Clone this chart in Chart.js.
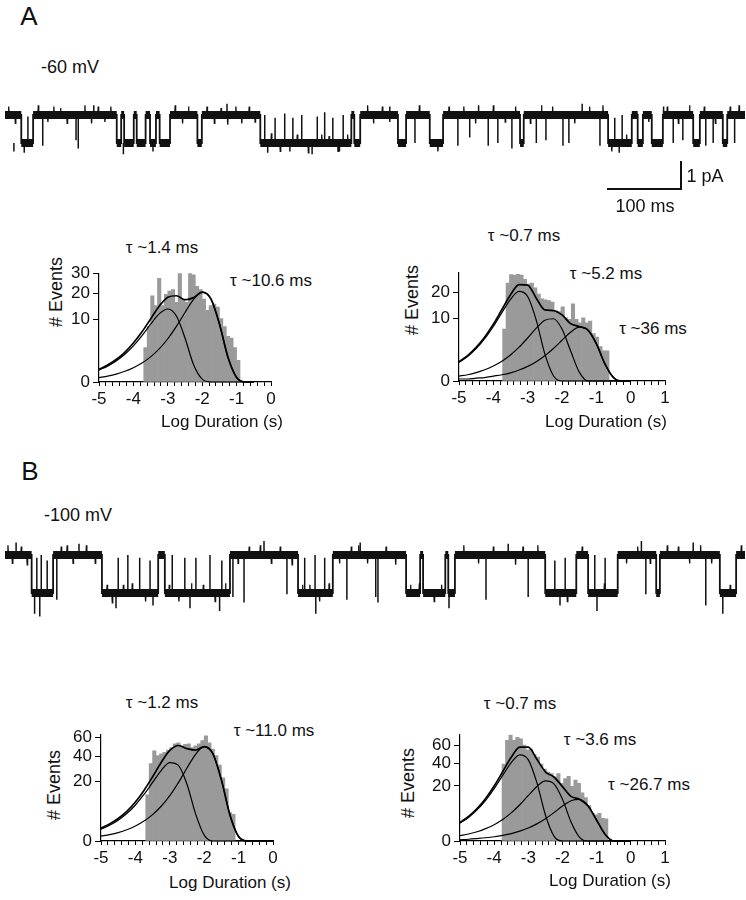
<!DOCTYPE html>
<html lang="en">
<head>
<meta charset="UTF-8">
<title>Single-channel records and dwell-time histograms</title>
<script src="https://cdn.jsdelivr.net/npm/chart.js"></script>
<style>
    body { margin: 0; background: #fff; }
    #fig { position: relative; width: 746px; height: 900px; background: #fff; overflow: hidden;
           font-family: 'Liberation Sans', Arial, Helvetica, sans-serif; color: #111; }
    canvas { position: absolute; }
    .t { position: absolute; transform: translate(-50%, -50%); white-space: pre; line-height: 1; font-size: 17px; }
    .big { font-size: 26px; }
    .mid { font-size: 18px; }
    .rot { transform: translate(-50%, -50%) rotate(-90deg); font-size: 18px; }
    .bar { position: absolute; background: #111; }
</style>
</head>
<body>
<div id="fig">
    <div class="t big" style="left:29px;top:16px">A</div>
    <div class="t mid" style="left:70px;top:67px">-60 mV</div>
    <canvas id="trA" width="740" height="84" style="left:5px;top:94px"></canvas>
    <div class="bar" style="left:680px;top:161px;width:1.5px;height:28px"></div>
    <div class="bar" style="left:607px;top:188px;width:75px;height:1.5px"></div>
    <div class="t mid" style="left:705px;top:176px">1 pA</div>
    <div class="t mid" style="left:645px;top:206px">100 ms</div>

    <div class="t" style="left:162px;top:247px">τ ~1.4 ms</div>
    <div class="t" style="left:271px;top:280px">τ ~10.6 ms</div>
    <div class="t rot" style="left:56px;top:292px"># Events</div>
    <canvas id="hAL" width="216" height="152" style="left:65px;top:260px"></canvas>
    <div class="t" style="left:222px;top:421px">Log Duration (s)</div>

    <div class="t" style="left:524px;top:235px">τ ~0.7 ms</div>
    <div class="t" style="left:606px;top:273px">τ ~5.2 ms</div>
    <div class="t" style="left:653px;top:328px">τ ~36 ms</div>
    <div class="t rot" style="left:412px;top:300px"># Events</div>
    <canvas id="hAR" width="250" height="152" style="left:425px;top:259px"></canvas>
    <div class="t" style="left:606px;top:421px">Log Duration (s)</div>

    <div class="t big" style="left:30px;top:471px">B</div>
    <div class="t mid" style="left:78px;top:515px">-100 mV</div>
    <canvas id="trB" width="740" height="90" style="left:5px;top:535px"></canvas>

    <div class="t" style="left:162px;top:702px">τ ~1.2 ms</div>
    <div class="t" style="left:274px;top:730px">τ ~11.0 ms</div>
    <div class="t rot" style="left:54px;top:785px"># Events</div>
    <canvas id="hBL" width="216" height="150" style="left:67px;top:721px"></canvas>
    <div class="t" style="left:230px;top:882px">Log Duration (s)</div>

    <div class="t" style="left:520px;top:703px">τ ~0.7 ms</div>
    <div class="t" style="left:600px;top:739px">τ ~3.6 ms</div>
    <div class="t" style="left:649px;top:784px">τ ~26.7 ms</div>
    <div class="t rot" style="left:408px;top:783px"># Events</div>
    <canvas id="hBR" width="249" height="150" style="left:426px;top:721px"></canvas>
    <div class="t" style="left:610px;top:880px">Log Duration (s)</div>
</div>

<script>
    // ---- current traces (time in ms, current in pA; 0 = closed level) ----
    const traceA_t  = [0,22,38,151,157,161,174,178,190,196,204,209,223,260,266,345,468,472,480,531,542,574,592,696,701,815,847,855,862,874,889,930,939,970,976,1000];
    const traceA_pA = [0,-1,0,-1,0,-1,0,-1,0,-1,0,-1,0,-1,0,-1,0,-1,0,-1,0,-1,0,-1,0,-1,0,-1,0,-1,0,-1,0,-1,0,0];
    const spikeA_t    = [51,96,99,554,612,628,653,666,685,718,731,754,762,804,903,916,947,957,986,
                         31,351,365,378,389,401,422,432,443,457,824,834,
                         26,160,200,355,385,415,452,830,
                         12,120,300,520,640,780,890];
    const spikeA_from = [0,0,0,0,0,0,0,0,0,0,0,0,0,0,0,0,0,0,0,
                         -1,-1,-1,-1,-1,-1,-1,-1,-1,-1,-1,-1,
                         -1,-1,-1,-1,-1,-1,-1,-1,-1,
                         0,0,0,0,0,0,0];
    const spikeA_to   = [-1.1,-0.9,-1.2,-1.0,-1.1,-0.8,-1.1,-1.0,-1.2,-1.0,-0.9,-1.1,-1.0,-1.1,-1.0,-0.9,-1.1,-1.0,-1.0,
                         -0.05,0,-0.1,0.05,-0.1,0,-0.05,0.1,-0.1,0,-0.1,0,
                         -1.35,-1.4,-1.3,-1.35,-1.3,-1.4,-1.3,-1.35,-1.3,
                         0.35,0.4,0.3,0.35,0.4,0.3,0.35];
    // small excursions of the baseline noise (offset from the level, pA)
    const noiseA_t = [5,14,45,58,66,75,84,108,117,126,135,143,230,240,248,273,283,292,301,312,320,330,338,360,372,395,410,428,
                      438,450,463,490,498,510,520,560,585,600,620,636,660,676,690,710,725,740,770,790,808,820,840,870,895,910,925,945,960,980,992];
    const noiseA_d = [0.3,-0.3,0.35,-0.25,0.3,0.25,-0.3,0.35,-0.3,0.3,-0.25,0.3,0.35,-0.3,0.3,0.3,-0.3,0.25,-0.35,0.3,-0.3,0.3,-0.25,0.35,
                      -0.3,0.3,-0.35,0.3,0.25,-0.3,0.3,0.35,-0.3,0.3,-0.25,0.35,-0.3,0.3,0.3,-0.3,0.35,-0.25,0.3,-0.3,0.35,0.3,-0.3,0.3,
                      0.35,-0.3,0.3,-0.25,0.3,-0.3,0.35,0.3,-0.3,0.3,0.35];

    const traceB_t  = [0,36,65,131,207,216,304,396,443,542,561,565,595,599,608,730,772,788,828,880,885,966,988,1000];
    const traceB_pA = [0,-1.36,0,-1.36,0,-1.36,0,-1.36,0,-1.36,0,-1.36,0,-1.36,0,-1.36,0,-1.36,0,-1.36,0,-1.36,0,0];
    const spikeB_t    = [70,308,323,381,462,501,504,650,707,866,947,
                         43,49,57,153,166,182,196,226,243,258,277,293,405,419,432,743,757,797,811,
                         40,47,150,200,250,290,420,600,750,800,970,
                         15,100,350,480,680,860,930];
    const spikeB_from = [0,0,0,0,0,0,0,0,0,0,0,
                         -1.36,-1.36,-1.36,-1.36,-1.36,-1.36,-1.36,-1.36,-1.36,-1.36,-1.36,-1.36,-1.36,-1.36,-1.36,-1.36,-1.36,-1.36,-1.36,
                         -1.36,-1.36,-1.36,-1.36,-1.36,-1.36,-1.36,-1.36,-1.36,-1.36,-1.36,
                         0,0,0,0,0,0,0];
    const spikeB_to   = [-1.6,-1.5,-1.7,-1.4,-1.6,-1.5,-1.7,-1.6,-1.5,-1.4,-1.8,
                         -0.1,0,-0.2,-0.1,0,-0.1,-0.2,0,-0.1,-0.1,0,-0.2,-0.1,0,-0.1,-0.2,-0.1,0,-0.1,
                         -2.1,-2.2,-1.9,-1.8,-1.9,-2.0,-2.1,-1.9,-1.8,-2.0,-2.1,
                         0.45,0.4,0.5,0.45,0.4,0.5,0.45];
    const noiseB_t = [4,10,22,30,76,84,92,110,122,138,145,160,172,190,222,235,252,268,284,298,315,330,345,360,372,388,402,
                      412,425,438,452,468,478,490,515,528,548,560,580,590,620,640,660,690,700,720,760,780,810,840,855,872,
                      895,910,925,940,955,980,995];
    const noiseB_d = [0.35,-0.3,0.3,-0.35,0.3,0.35,-0.3,0.35,-0.3,0.3,-0.35,0.3,0.35,-0.3,0.3,-0.3,0.35,0.3,-0.3,0.35,-0.3,0.3,
                      0.35,-0.3,0.3,-0.35,0.3,0.3,-0.3,0.35,-0.3,0.3,0.35,-0.3,0.3,-0.35,0.3,0.35,-0.3,0.3,0.35,-0.3,0.3,
                      -0.35,0.3,0.35,-0.3,0.3,0.35,-0.3,0.3,-0.3,0.35,0.3,-0.3,0.35,-0.3,0.3,0.35];

    // ---- dwell-time histograms (bin centre in log10 s, # events) ----
    const binsAL   = [-3.65,-3.55,-3.45,-3.35,-3.25,-3.15,-3.05,-2.95,-2.85,-2.75,-2.65,-2.55,-2.45,-2.35,-2.25,-2.15,-2.05,-1.95,-1.85,-1.75,-1.65,-1.55,-1.45,-1.35,-1.25,-1.15,-1.05,-0.95];
    const countsAL = [3.0,7.8,18.8,14.8,27.3,14.8,19.5,20.9,21.7,16.1,29.9,17.4,16.1,31.2,29.1,23.2,21.7,17.4,13.0,14.8,15.4,14.2,10.2,7.8,5.3,4.9,3.0,1.2];
    const binsAR   = [-3.68,-3.58,-3.48,-3.38,-3.28,-3.18,-3.08,-2.98,-2.88,-2.78,-2.68,-2.58,-2.48,-2.38,-2.28,-2.18,-2.08,-1.98,-1.88,-1.78,-1.68,-1.58,-1.48,-1.38,-1.28,-1.18,-1.08,-0.98,-0.88,-0.78,-0.68];
    const countsAR = [6.8,24.3,28.7,28.4,28.9,28.4,26.2,23.8,24.3,22.0,19.1,17.1,16.7,16.4,15.8,12.5,12.2,13.9,10.1,9.6,15.1,9.6,8.6,10.1,8.6,9.1,5.7,4.9,3.0,2.3,2.3];
    const binsBL   = [-3.65,-3.55,-3.45,-3.35,-3.25,-3.15,-3.05,-2.95,-2.85,-2.75,-2.65,-2.55,-2.45,-2.35,-2.25,-2.15,-2.05,-1.95,-1.85,-1.75,-1.65,-1.55,-1.45,-1.35,-1.25,-1.15];
    const countsBL = [12,33.7,45.7,41.0,42.6,44.1,46.4,49.0,53.1,54.1,50.7,52.4,53.1,49.0,50.7,53.1,56.6,62,54.1,47.3,41.0,32.4,22.4,15.2,4.5,4.0];
    const binsBR   = [-3.72,-3.62,-3.52,-3.42,-3.32,-3.22,-3.12,-3.02,-2.92,-2.82,-2.72,-2.62,-2.52,-2.42,-2.32,-2.22,-2.12,-2.02,-1.92,-1.82,-1.72,-1.62,-1.52,-1.42,-1.32,-1.22,-1.12,-1.02,-0.92,-0.82,-0.72];
    const countsBR = [38.8,66.6,73.9,66.6,70.8,68.7,60.4,54.6,55.7,49.0,46.2,38.8,34.1,31.2,29.8,27.0,29.8,21.9,25.7,27.6,19.6,24.4,21.9,15.3,12.4,8.3,5.0,4.5,5.0,3.4,3.2];

    // ---- fitted curves, read at quarter-decade steps ----
    const gridAL  = [-5,-4.75,-4.5,-4.25,-4,-3.75,-3.5,-3.25,-3,-2.75,-2.5,-2.25,-2,-1.75,-1.5,-1.25,-1,-0.75,-0.5];
    const totalAL = [0.41,0.73,1.28,2.24,3.84,6.37,10.06,14.54,18.24,18.86,17.15,18.05,20.47,17.59,8.60,1.54,0.05,0,0];
    const fastAL  = [0.36,0.64,1.12,1.95,3.32,5.46,8.46,11.76,13.5,11.02,4.91,0.75,0.02,0,0,0,0,0,0];
    const slowAL  = [0.05,0.09,0.16,0.29,0.52,0.91,1.60,2.78,4.74,7.84,12.24,17.30,20.45,17.59,8.60,1.54,0.05,0,0];

    const grid5   = [-5,-4.75,-4.5,-4.25,-4,-3.75,-3.5,-3.25,-3,-2.75,-2.5,-2.25,-2,-1.75,-1.5,-1.25,-1,-0.75,-0.5,-0.25,0];
    const totalAR = [0.94,1.64,2.86,4.89,8.17,12.95,18.81,23.58,23.33,17.39,12.82,12.56,11.06,8.35,7.54,6.62,3.53,0.74,0.03,0,0];
    const c1AR    = [0.87,1.53,2.66,4.54,7.54,11.85,16.92,20.37,18.10,9.38,1.86,0.07,0,0,0,0,0,0,0,0,0];
    const c2AR    = [0.06,0.10,0.18,0.32,0.57,1.00,1.72,2.90,4.69,7.07,9.35,9.82,6.85,2.31,0.21,0,0,0,0,0,0];
    const c3AR    = [0.01,0.01,0.02,0.03,0.06,0.10,0.17,0.31,0.54,0.94,1.61,2.67,4.21,6.04,7.33,6.62,3.53,0.74,0.03,0,0];

    const totalBL = [0.92,1.62,2.84,4.96,8.54,14.36,23.14,34.64,46.01,51.17,47.90,46.34,50.08,42.91,20.97,3.75,0.11,0,0,0,0];
    const fastBL  = [0.79,1.39,2.44,4.25,7.28,12.14,19.24,27.87,34.45,32.06,18.04,4.14,0.19,0,0,0,0,0,0,0,0];
    const slowBL  = [0.13,0.23,0.40,0.71,1.26,2.22,3.90,6.77,11.56,19.11,29.86,42.20,49.89,42.91,20.97,3.75,0.11,0,0,0,0];

    const totalBR = [2.27,3.99,6.95,11.93,19.89,31.57,46.01,57.99,58.03,43.92,31.48,26.93,19.45,13.06,11.43,8.09,2.83,0.28,0,0,0];
    const c1BR    = [2.08,3.65,6.35,10.86,18.02,28.32,40.44,48.69,43.27,22.41,4.44,0.16,0,0,0,0,0,0,0,0,0];
    const c2BR    = [0.18,0.32,0.56,1.00,1.75,3.04,5.21,8.66,13.64,19.58,23.78,21.47,11.44,2.39,0.09,0,0,0,0,0,0];
    const c3BR    = [0.01,0.02,0.04,0.07,0.12,0.21,0.36,0.64,1.12,1.93,3.26,5.30,8.01,10.67,11.34,8.09,2.83,0.28,0,0,0];

    const yTicksA  = [0, 10, 20, 30];
    const yTicksAR = [0, 10, 20];
    const yTicksB  = [0, 20, 40, 60];

    const FONT = "'Liberation Sans', Arial, Helvetica, sans-serif";
    Chart.defaults.font.family = FONT;
    Chart.defaults.font.size = 17;
    Chart.defaults.color = '#111';

    // square-root y axis (the histograms use sqrt(# events))
    class SqrtScale extends Chart.LinearScale {
        getPixelForValue(value) {
            if (value === null || value === undefined || isNaN(value)) return NaN;
            const lo = Math.sqrt(Math.max(0, this.min)), hi = Math.sqrt(Math.max(0, this.max));
            return this.getPixelForDecimal((Math.sqrt(Math.max(0, value)) - lo) / (hi - lo));
        }
        getValueForPixel(pixel) {
            const lo = Math.sqrt(Math.max(0, this.min)), hi = Math.sqrt(Math.max(0, this.max));
            const s = lo + this.getDecimalForPixel(pixel) * (hi - lo);
            return s * s;
        }
    }
    SqrtScale.id = 'sqrt';
    SqrtScale.defaults = Chart.LinearScale.defaults;
    Chart.register(SqrtScale);

    function makeHist(id, bins, counts, grid, curves, xMax, yMax, yTicks) {
        const datasets = [{
            type: 'bar',
            data: bins.map((x, i) => ({ x: x, y: counts[i] })),
            backgroundColor: '#9a9a9a',
            borderWidth: 0,
            barPercentage: 1,
            categoryPercentage: 1,
            order: 1
        }];
        curves.forEach((c, k) => {
            datasets.push({
                type: 'line',
                data: grid.map((x, i) => ({ x: x, y: c[i] })),
                borderColor: '#000',
                borderWidth: k === 0 ? 1.7 : 1.2,
                pointRadius: 0,
                cubicInterpolationMode: 'monotone',
                clip: false,
                order: 0
            });
        });

        new Chart(document.getElementById(id), {
            type: 'bar',
            data: { datasets: datasets },
            options: {
                animation: false,
                responsive: false,
                layout: { autoPadding: false, padding: { top: 8, right: 10, left: 0, bottom: 0 } },
                plugins: { legend: { display: false }, tooltip: { enabled: false } },
                scales: {
                    x: {
                        type: 'linear', min: -5, max: xMax, offset: false,
                        afterFit: s => { s.height = 30; },
                        ticks: {
                            stepSize: 0.2, autoSkip: false, maxRotation: 0, padding: 3,
                            callback: v => Math.abs(v - Math.round(v)) < 1e-6 ? String(Math.round(v)) : ''
                        },
                        grid: { offset: false, drawOnChartArea: false, tickLength: 4, tickColor: '#000' },
                        border: { color: '#000', width: 1.2 }
                    },
                    y: {
                        type: 'sqrt', min: 0, max: yMax,
                        afterFit: s => { s.width = 34; },
                        afterBuildTicks: s => { s.ticks = yTicks.map(v => ({ value: v })); },
                        ticks: { padding: 3, callback: v => String(v) },
                        grid: { drawOnChartArea: false, tickLength: 6, tickColor: '#000' },
                        border: { color: '#000', width: 1.2 }
                    }
                }
            }
        });
    }

    function levelAt(t, lv, x) {
        let k = 0;
        while (k + 1 < t.length && t[k + 1] <= x) k++;
        return lv[k];
    }

    function makeTrace(id, t, lv, sT, sFrom, sTo, nT, nD, yMin, yMax) {
        const band = [];
        for (let i = 0; i < t.length - 1; i++) {
            band.push({ x: t[i], y: lv[i] }, { x: t[i + 1], y: lv[i] }, { x: t[i + 1], y: null });
        }
        const spikes = [];
        sT.forEach((x, i) => spikes.push({ x: x, y: sFrom[i] }, { x: x, y: sTo[i] }, { x: x, y: null }));
        const noise = [];
        nT.forEach((x, i) => {
            const base = levelAt(t, lv, x);
            noise.push({ x: x - 0.6, y: base }, { x: x, y: base + nD[i] }, { x: x + 0.6, y: base }, { x: x + 0.6, y: null });
        });

        new Chart(document.getElementById(id), {
            type: 'line',
            data: {
                datasets: [
                    { data: band, borderColor: '#111', borderWidth: 8, borderCapStyle: 'butt', pointRadius: 0, spanGaps: false },
                    { data: t.map((x, i) => ({ x: x, y: lv[i] })), stepped: true, borderColor: '#111', borderWidth: 1.8, pointRadius: 0 },
                    { data: spikes, borderColor: '#111', borderWidth: 1.5, pointRadius: 0, spanGaps: false },
                    { data: noise, borderColor: '#111', borderWidth: 1.3, pointRadius: 0, spanGaps: false }
                ]
            },
            options: {
                animation: false,
                responsive: false,
                layout: { padding: 0 },
                plugins: { legend: { display: false }, tooltip: { enabled: false } },
                scales: {
                    x: { type: 'linear', min: 0, max: 1000, display: false },
                    y: { type: 'linear', min: yMin, max: yMax, display: false }
                }
            }
        });
    }

    makeTrace('trA', traceA_t, traceA_pA, spikeA_t, spikeA_from, spikeA_to, noiseA_t, noiseA_d, -2.25, 0.75);
    makeTrace('trB', traceB_t, traceB_pA, spikeB_t, spikeB_from, spikeB_to, noiseB_t, noiseB_d, -2.5, 0.714);

    makeHist('hAL', binsAL, countsAL, gridAL, [totalAL, fastAL, slowAL], 0, 30, yTicksA);
    makeHist('hAR', binsAR, countsAR, grid5, [totalAR, c1AR, c2AR, c3AR], 1, 30, yTicksAR);
    makeHist('hBL', binsBL, countsBL, grid5, [totalBL, fastBL, slowBL], 0, 64, yTicksB);
    makeHist('hBR', binsBR, countsBR, grid5, [totalBR, c1BR, c2BR, c3BR], 1, 75, yTicksB);
</script>
</body>
</html>
